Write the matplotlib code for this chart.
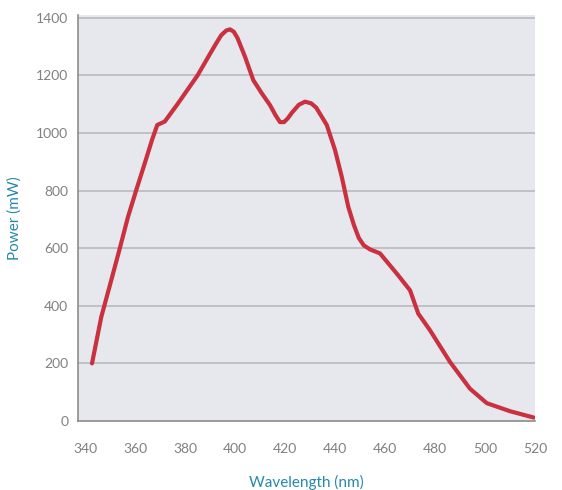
import numpy as np
import matplotlib.pyplot as plt

# Output power vs wavelength
wavelength = [342.8, 346.5, 350.5, 353.9, 357.2, 360.5, 363.9, 366.8, 368.9, 371.9,
              377.2, 385.0, 390.0, 392.5, 394.5, 396.5, 398.0, 399.5, 401.0, 404.0,
              407.3, 410.7, 414.0, 416.2, 418.0, 419.6, 421.2, 422.7, 425.5, 428.0,
              430.5, 432.5, 436.7, 440.0, 442.7, 445.3, 447.5, 449.5, 451.5, 454.0,
              458.0, 464.7, 470.0, 473.3, 478.0, 486.0, 494.0, 500.7, 510.0, 519.5]
power = [200, 361, 489, 599, 709, 802, 895, 976, 1028, 1040,
         1103, 1200, 1275, 1312, 1340, 1356, 1360, 1352, 1330, 1265,
         1184, 1138, 1097, 1062, 1038, 1038, 1052, 1070, 1098, 1109,
         1103, 1088, 1028, 941, 848, 744, 682, 636, 610, 596,
         582, 512, 454, 373, 315, 205, 112, 62, 34, 12]

yticks = [0, 200, 400, 600, 800, 1000, 1200, 1400]
xticks = [340, 360, 380, 400, 420, 440, 460, 480, 500, 520]

plt.rcParams['font.family'] = ['Lato', 'DejaVu Sans']

fig = plt.figure(figsize=(5.62, 4.90), dpi=100)
ax = fig.add_axes([0.1388, 0.1408, 0.8132, 0.8286])
ax.set_facecolor('#e6e8ee')

for y in yticks[1:]:
    ax.axhline(y, color='#b4b6bb', linewidth=1.1, zorder=1)

ax.plot(wavelength, power, color='#c9313e', linewidth=3.0,
        solid_joinstyle='round', solid_capstyle='round', zorder=3)

ax.set_xlim(337.2, 520)
ax.set_ylim(0, 1410)
ax.set_xticks(xticks)
ax.set_yticks(yticks)
ax.tick_params(axis='both', length=0, labelsize=10, labelcolor='#808080')
ax.tick_params(axis='x', pad=16)
ax.tick_params(axis='y', pad=7)

for side in ['top', 'right']:
    ax.spines[side].set_visible(False)
for side in ['left', 'bottom']:
    ax.spines[side].set_color('#8c8c8c')
    ax.spines[side].set_linewidth(1.2)

ax.set_xlabel('Wavelength (nm)', color='#2589a8', fontsize=11, labelpad=14)
ax.set_ylabel('Power (mW)', color='#2589a8', fontsize=11, labelpad=10)

fig.savefig('out.png', dpi=100)
